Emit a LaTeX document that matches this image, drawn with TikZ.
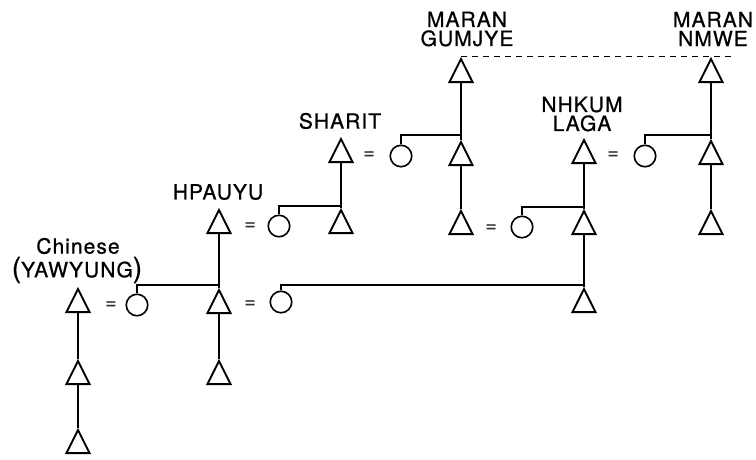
\documentclass[tikz,border=0pt]{standalone}
\usepackage{fontspec}
\setmainfont{TeX Gyre Heros}[LetterSpace=5,FakeBold=0.8]
\usetikzlibrary{shapes.geometric}
\begin{document}
\begin{tikzpicture}[x=1pt,y=-1pt,
  tri/.style={draw, isosceles triangle, shape border rotate=90, isosceles triangle stretches,
    minimum width=23pt, minimum height=23pt, inner sep=0pt, line width=1.9pt},
  fem/.style={draw, circle, minimum size=21.5pt, inner sep=0pt, line width=1.6pt},
  lbl/.style={font=\fontsize{21}{21}\selectfont, inner sep=0pt, align=center},
  eqs/.style={font=\fontsize{19}{19}\selectfont, inner sep=0pt, text=black!80},
  kin/.style={line width=1.3pt},
  dsh/.style={line width=1.3pt, dash pattern=on 6pt off 5pt}]
\useasboundingbox (0,0) rectangle (756,459);
% labels
\node[lbl] (lchin) at (78,246) {Chinese};
\node[lbl] (lyaw) at (77,270) {{\fontsize{28}{28}\selectfont(}YAWYUNG{\fontsize{28}{28}\selectfont)}};
\node[lbl] (lhp) at (218,192) {HPAUYU};
\node[lbl] (lsh) at (340,121) {SHARIT};
\node[lbl, text width=100pt] (lgum) at (467,29) {MARAN\\[-2pt]GUMJYE};
\node[lbl, text width=100pt] (lnh) at (582,114) {NHKUM\\[-2pt]LAGA};
\node[lbl, text width=100pt] (lnm) at (713,29) {MARAN\\[-2pt]NMWE};
% Chinese column
\node[tri] (cT1) at (78,305) {};
\node[tri] (cT2) at (78,377) {};
\node[tri] (cT3) at (78,446) {};
\node[fem] (cC) at (137,305) {};
\node[eqs] (e1) at (111,305) {=};
% HPAUYU column
\node[tri] (hT1) at (219,226) {};
\node[tri] (hT2) at (219,306) {};
\node[tri] (hT3) at (219,377) {};
\node[fem] (hC) at (279,226) {};
\node[eqs] (e2) at (250,226) {=};
\node[fem] (hC2) at (281,302) {};
\node[eqs] (e3) at (250,304) {=};
% SHARIT column
\node[tri] (sT1) at (341,155) {};
\node[tri] (sT2) at (341,226) {};
\node[fem] (sC) at (401,156) {};
\node[eqs] (e4) at (369,155) {=};
% GUMJYE column
\node[tri] (gT1) at (461,75) {};
\node[tri] (gT2) at (461,158) {};
\node[tri] (gT3) at (461,227) {};
\node[fem] (gC) at (522,227) {};
\node[eqs] (e5) at (491,228) {=};
% NHKUM column
\node[tri] (nT1) at (584,156) {};
\node[tri] (nT2) at (584,227) {};
\node[tri] (nT3) at (584,305) {};
\node[fem] (nC) at (645,156) {};
\node[eqs] (e6) at (613,155) {=};
% NMWE column
\node[tri] (mT1) at (711,75) {};
\node[tri] (mT2) at (711,157) {};
\node[tri] (mT3) at (711,227) {};
% junctions
\coordinate (j1) at (219,285);
\coordinate (j2) at (584,285);
\coordinate (j3) at (341,206);
\coordinate (j4) at (461,135);
\coordinate (j5) at (584,207);
\coordinate (j6) at (711,135);
% descent lines
\draw[kin] (cT1.lower side) -- (cT2.apex);
\draw[kin] (cT2.lower side) -- (cT3.apex);
\draw[kin] (hT1.lower side) -- (hT2.apex);
\draw[kin] (hT2.lower side) -- (hT3.apex);
\draw[kin] (sT1.lower side) -- (sT2.apex);
\draw[kin] (gT1.lower side) -- (gT2.apex);
\draw[kin] (gT2.lower side) -- (gT3.apex);
\draw[kin] (nT1.lower side) -- (nT2.apex);
\draw[kin] (nT2.lower side) -- (nT3.apex);
\draw[kin] (mT1.lower side) -- (mT2.apex);
\draw[kin] (mT2.lower side) -- (mT3.apex);
% sister links
\draw[kin] (cC.north) |- (j1);
\draw[kin] (hC2.north) |- (j2);
\draw[kin] (hC.north) |- (j3);
\draw[kin] (sC.north) |- (j4);
\draw[kin] (gC.north) |- (j5);
\draw[kin] (nC.north) |- (j6);
% dashed line
\draw[dsh] (gT1.apex) -- (mT1.apex) -- ++(24,0) coordinate (dEnd);
\end{tikzpicture}
\end{document}
